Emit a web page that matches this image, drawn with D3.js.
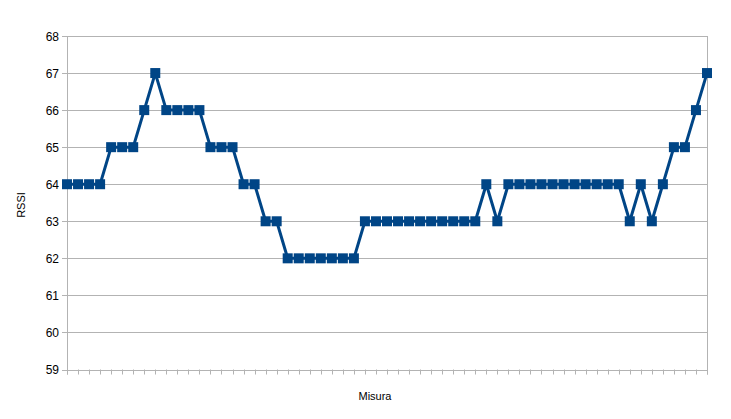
<!DOCTYPE html>
<html><head><meta charset="utf-8">
<script src="https://cdn.jsdelivr.net/npm/d3@7"></script>
<style>body{margin:0;background:#fff}svg{display:block}text{font-family:"Liberation Sans",Arial,sans-serif}</style>
</head><body>
<svg id="c" width="731" height="419"></svg>
<script>
const rssi = [64,64,64,64,65,65,65,66,67,66,66,66,66,65,65,65,64,64,63,63,
  62,62,62,62,62,62,62,
  63,63,63,63,63,63,63,63,63,63,63,
  64,63,
  64,64,64,64,64,64,64,64,64,64,64,
  63,64,63,64,65,65,66,67];
const yTicks = [59,60,61,62,63,64,65,66,67,68];
const xTitle = "Misura", yTitle = "RSSI";

const svg = d3.select("#c");
const L=67, R=707, T=36, B=369.5;
const idx = rssi.map((d,i)=>i);
const x = d3.scalePoint().domain(idx).range([L,R]);
const y = d3.scaleLinear().domain([59,68]).range([B,T]);
const grid="#b3b3b3";

// grid
svg.append("g").selectAll("line").data(yTicks).join("line")
  .attr("x1",L-5).attr("x2",R).attr("y1",d=>Math.round(y(d))+0.5).attr("y2",d=>Math.round(y(d))+0.5)
  .attr("stroke",grid).attr("stroke-width",1);
// axes lines
svg.append("line").attr("x1",L+0.5).attr("x2",L+0.5).attr("y1",T).attr("y2",B+5).attr("stroke",grid);
svg.append("line").attr("x1",R+0.5).attr("x2",R+0.5).attr("y1",T).attr("y2",B+5).attr("stroke",grid);
// x ticks
svg.append("g").selectAll("line").data(idx).join("line")
  .attr("x1",d=>Math.round(x(d))+0.5).attr("x2",d=>Math.round(x(d))+0.5)
  .attr("y1",B).attr("y2",B+5).attr("stroke",grid);
// y labels
svg.append("g").selectAll("text").data(yTicks).join("text")
  .attr("x",59).attr("y",d=>y(d)+4.5).attr("text-anchor","end")
  .attr("font-size",12).attr("fill","#000").text(d=>d);
// titles
svg.append("text").attr("transform","translate(25,205) rotate(-90)")
  .attr("text-anchor","middle").attr("font-size",11).text(yTitle);
svg.append("text").attr("x",375).attr("y",400).attr("text-anchor","middle")
  .attr("font-size",11).text(xTitle);
// line
const line = d3.line().x((d,i)=>x(i)).y(d=>y(d));
svg.append("path").datum(rssi).attr("d",line).attr("fill","none")
  .attr("stroke","#004586").attr("stroke-width",3).attr("stroke-linejoin","round");
svg.append("g").selectAll("rect").data(rssi).join("rect")
  .attr("x",(d,i)=>x(i)-5).attr("y",d=>y(d)-5).attr("width",10).attr("height",10)
  .attr("fill","#004586");
</script>
</body></html>
